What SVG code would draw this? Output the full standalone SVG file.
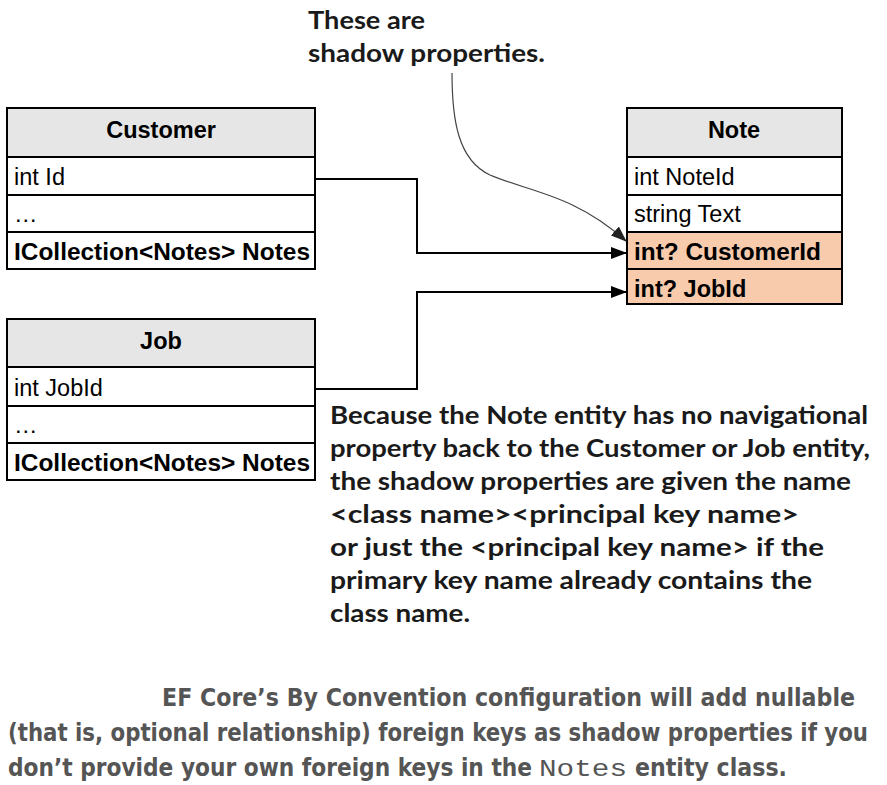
<svg xmlns="http://www.w3.org/2000/svg" width="887" height="785" viewBox="0 0 887 785">
<style>
.box{fill:#fff;stroke:#000;stroke-width:2}
.hdr{fill:#e6e6e6;stroke:#000;stroke-width:2}
.fk{fill:#f8cbad;stroke:#000;stroke-width:2}
.t{font-family:"Liberation Sans",Arial,sans-serif;font-size:23.5px;fill:#000}
.b{font-weight:bold}
.h{font-family:"Liberation Sans",Arial,sans-serif;font-size:23.5px;font-weight:bold;text-anchor:middle}
.c{font-family:Lato,"Open Sans",sans-serif;font-weight:bold;font-size:25px;fill:#1a1a1a}
.cap{font-family:"DejaVu Sans Condensed","DejaVu Sans",sans-serif;font-weight:bold;font-size:24px;fill:#555}
.mono{font-family:"Liberation Mono","Courier New",monospace;font-size:24px;fill:#555}
.conn{fill:none;stroke:#000;stroke-width:2}
</style>
<defs>
<marker id="ah" markerUnits="userSpaceOnUse" markerWidth="16" markerHeight="12" refX="15" refY="6" orient="auto">
<path d="M0,0 L16,6 L0,12 Z" fill="#000"/>
</marker>
<marker id="ah2" markerUnits="userSpaceOnUse" markerWidth="16" markerHeight="12" refX="15" refY="6" orient="auto">
<path d="M0,0 L16,6 L0,12 Z" fill="#222"/>
</marker>
</defs>

<g id="customer">
<rect class="hdr" x="7" y="108" width="308" height="49"/>
<rect class="box" x="7" y="157" width="308" height="38"/>
<rect class="box" x="7" y="195" width="308" height="37"/>
<rect class="box" x="7" y="232" width="308" height="37"/>
<text class="h" x="161" y="138">Customer</text>
<text class="t" x="14" y="185">int Id</text>
<text class="t" x="14" y="222">…</text>
<text class="t b" x="14" y="260" textLength="296" lengthAdjust="spacingAndGlyphs">ICollection&lt;Notes&gt; Notes</text>
</g>

<g id="job">
<rect class="hdr" x="7" y="319" width="308" height="48"/>
<rect class="box" x="7" y="367" width="308" height="39"/>
<rect class="box" x="7" y="406" width="308" height="37"/>
<rect class="box" x="7" y="443" width="308" height="37"/>
<text class="h" x="161" y="349">Job</text>
<text class="t" x="14" y="396">int JobId</text>
<text class="t" x="14" y="433">…</text>
<text class="t b" x="14" y="471" textLength="296" lengthAdjust="spacingAndGlyphs">ICollection&lt;Notes&gt; Notes</text>
</g>

<g id="note">
<rect class="hdr" x="627" y="108" width="215" height="49"/>
<rect class="box" x="627" y="157" width="215" height="38"/>
<rect class="box" x="627" y="195" width="215" height="37"/>
<rect class="fk" x="627" y="232" width="215" height="37"/>
<rect class="fk" x="627" y="269" width="215" height="35"/>
<text class="h" x="734" y="138">Note</text>
<text class="t" x="634" y="185">int NoteId</text>
<text class="t" x="634" y="222">string Text</text>
<text class="t b" x="634" y="260" textLength="187" lengthAdjust="spacingAndGlyphs">int? CustomerId</text>
<text class="t b" x="634" y="297">int? JobId</text>
</g>

<g id="connectors">
<path class="conn" d="M315,179 H417 V253 H626" marker-end="url(#ah)"/>
<path class="conn" d="M315,389 H417 V292 H626" marker-end="url(#ah)"/>
<path fill="none" stroke="#444" stroke-width="1.2" d="M452,73 C452,120 458,160 490,175 C530,192 575,195 626,241" marker-end="url(#ah2)"/>
</g>

<g id="callout-top">
<text class="c" x="308" y="29" textLength="117" lengthAdjust="spacingAndGlyphs">These are</text>
<text class="c" x="308" y="62" textLength="237" lengthAdjust="spacingAndGlyphs">shadow properties.</text>
</g>

<g id="callout-main">
<text class="c" x="330" y="424" textLength="538" lengthAdjust="spacingAndGlyphs">Because the Note entity has no navigational</text>
<text class="c" x="330" y="457" textLength="540" lengthAdjust="spacingAndGlyphs">property back to the Customer or Job entity,</text>
<text class="c" x="330" y="490" textLength="521" lengthAdjust="spacingAndGlyphs">the shadow properties are given the name</text>
<text class="c" x="330" y="523" textLength="469" lengthAdjust="spacingAndGlyphs">&lt;class name&gt;&lt;principal key name&gt;</text>
<text class="c" x="330" y="556" textLength="494" lengthAdjust="spacingAndGlyphs">or just the &lt;principal key name&gt; if the</text>
<text class="c" x="330" y="589" textLength="482" lengthAdjust="spacingAndGlyphs">primary key name already contains the</text>
<text class="c" x="330" y="622" textLength="140" lengthAdjust="spacingAndGlyphs">class name.</text>
</g>

<g id="caption">
<text class="cap" x="162" y="706" textLength="693" lengthAdjust="spacingAndGlyphs">EF Core’s By Convention configuration will add nullable</text>
<text class="cap" x="8" y="741" textLength="860" lengthAdjust="spacingAndGlyphs">(that is, optional relationship) foreign keys as shadow properties if you</text>
<text class="cap" x="8" y="776" textLength="524" lengthAdjust="spacingAndGlyphs">don’t provide your own foreign keys in the</text>
<text class="mono" x="539" y="776" textLength="88" lengthAdjust="spacingAndGlyphs">Notes</text>
<text class="cap" x="635" y="776" textLength="152" lengthAdjust="spacingAndGlyphs">entity class.</text>
</g>
</svg>
